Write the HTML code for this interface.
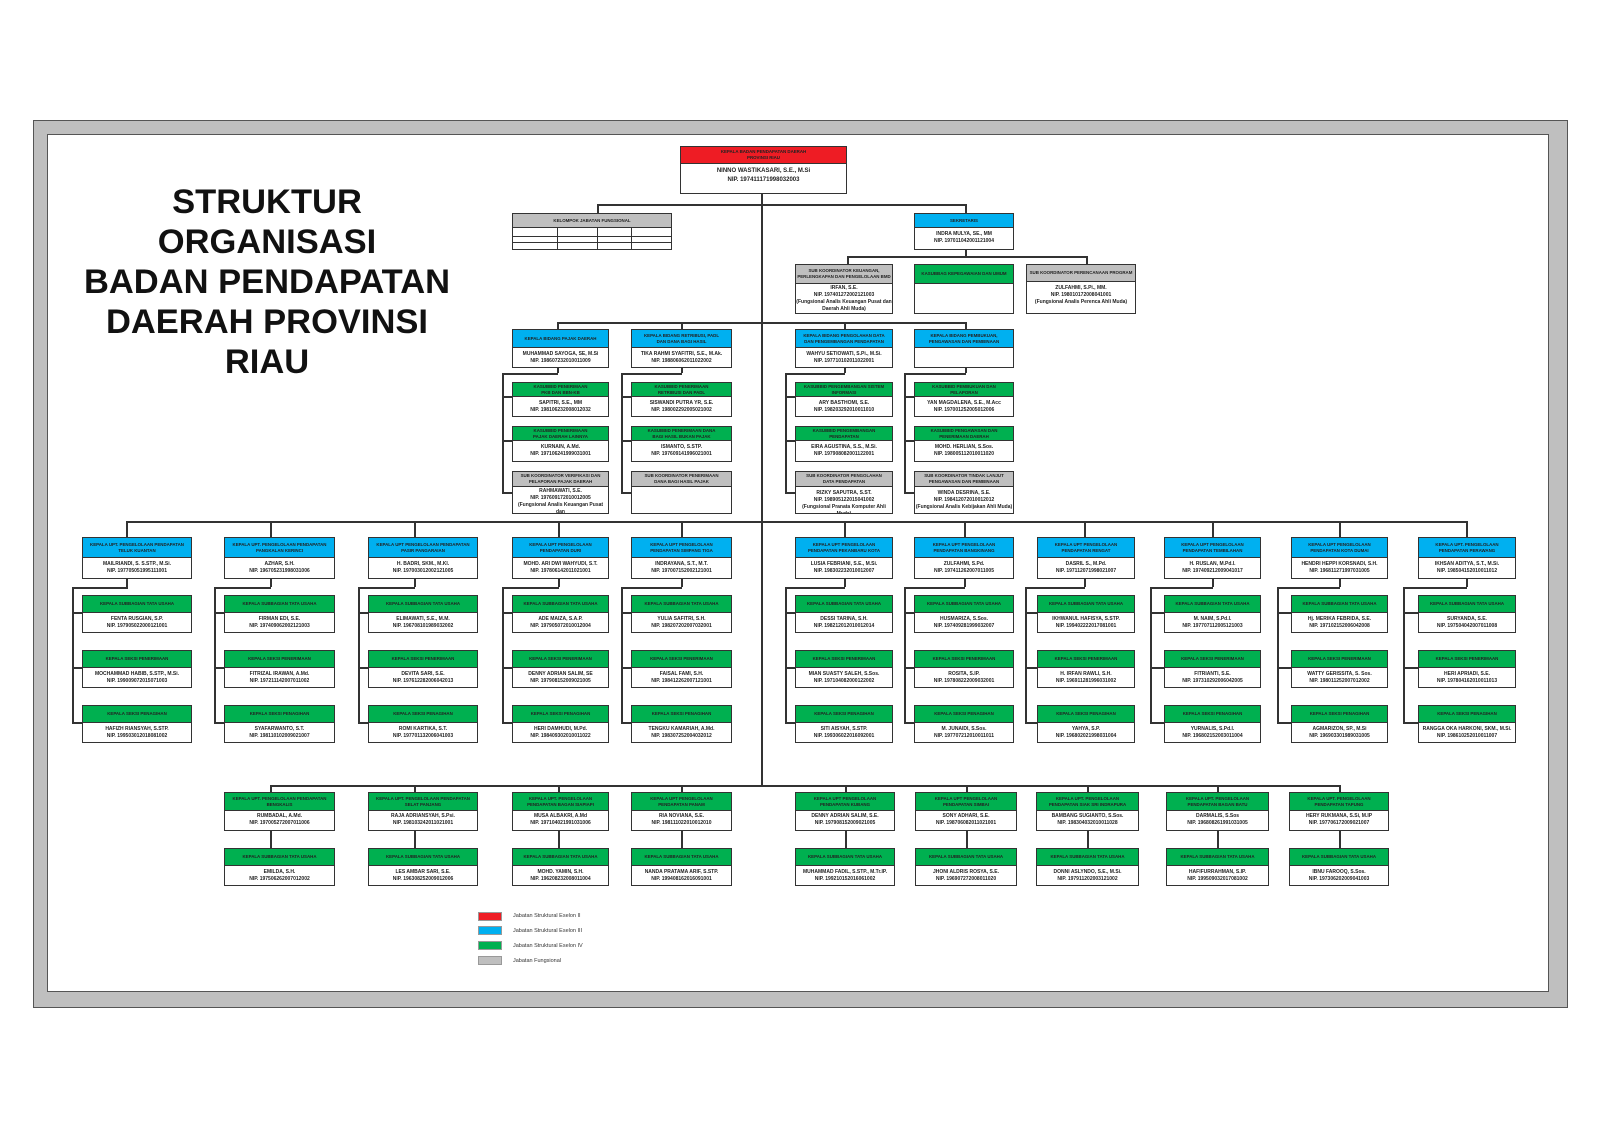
<!DOCTYPE html>
<html><head><meta charset="utf-8">
<style>
*{margin:0;padding:0;box-sizing:border-box}
body{width:1600px;height:1131px;background:#fff;position:relative;overflow:hidden;font-family:"Liberation Sans",sans-serif}
.frame{position:absolute;left:33px;top:120px;width:1535px;height:888px;background:#bfbfbf;border:1.5px solid #555}
.inner{position:absolute;left:47px;top:134px;width:1502px;height:858px;background:#fff;border:1.5px solid #555}
.title{position:absolute;left:57px;top:182px;width:420px;text-align:center;font-weight:bold;font-size:34.5px;line-height:40px;color:#111}
.b{position:absolute;background:#fff;border:1.5px solid #333;text-align:center;font-size:5px;line-height:7px;color:#222;font-weight:bold;overflow:hidden}
.h{display:flex;align-items:center;justify-content:center;border-bottom:1.5px solid #333;color:#222;font-size:4.4px;line-height:6px;padding:0 1px}
.t{padding-top:3px}
.r{background:#ee1c24}.bl{background:#00b0f0}.g{background:#00b050}.gr{background:#bfbfbf}
.l{position:absolute;background:#333}
.lg{position:absolute;width:24px;height:9px;border:1px solid #999}
.lt{position:absolute;left:513px;font-size:5.5px;color:#333}
</style></head><body>
<div class="frame"></div>
<div class="inner"></div>
<div class="title">STRUKTUR<br>ORGANISASI<br>BADAN PENDAPATAN<br>DAERAH PROVINSI<br>RIAU</div>

<!-- lines top -->
<div class="l" style="left:761px;top:194px;width:2px;height:592px"></div>
<div class="l" style="left:597px;top:204px;width:369px;height:1.5px"></div>
<div class="l" style="left:597px;top:204px;width:1.5px;height:9px"></div>
<div class="l" style="left:965px;top:204px;width:1.5px;height:9px"></div>
<div class="l" style="left:965px;top:250px;width:1.5px;height:7px"></div>
<div class="l" style="left:847px;top:256px;width:240px;height:1.5px"></div>
<div class="l" style="left:847px;top:256px;width:1.5px;height:8px"></div>
<div class="l" style="left:1086px;top:256px;width:1.5px;height:8px"></div>
<div class="l" style="left:557px;top:322px;width:409px;height:1.5px"></div>
<div class="l" style="left:557px;top:322px;width:1.5px;height:7px"></div>
<div class="l" style="left:681px;top:322px;width:1.5px;height:7px"></div>
<div class="l" style="left:844px;top:322px;width:1.5px;height:7px"></div>
<div class="l" style="left:965px;top:322px;width:1.5px;height:7px"></div>

<!-- bidang brackets -->
<div class="l" style="left:557px;top:368px;width:1.5px;height:5px"></div>
<div class="l" style="left:502px;top:373px;width:56px;height:1.5px"></div>
<div class="l" style="left:502px;top:373px;width:1.5px;height:120px"></div>
<div class="l" style="left:502px;top:396px;width:10px;height:1.5px"></div>
<div class="l" style="left:502px;top:440px;width:10px;height:1.5px"></div>
<div class="l" style="left:502px;top:492px;width:10px;height:1.5px"></div>
<div class="l" style="left:681px;top:368px;width:1.5px;height:5px"></div>
<div class="l" style="left:621px;top:373px;width:61px;height:1.5px"></div>
<div class="l" style="left:621px;top:373px;width:1.5px;height:120px"></div>
<div class="l" style="left:621px;top:396px;width:10px;height:1.5px"></div>
<div class="l" style="left:621px;top:440px;width:10px;height:1.5px"></div>
<div class="l" style="left:621px;top:492px;width:10px;height:1.5px"></div>
<div class="l" style="left:844px;top:368px;width:1.5px;height:5px"></div>
<div class="l" style="left:785px;top:373px;width:60px;height:1.5px"></div>
<div class="l" style="left:785px;top:373px;width:1.5px;height:120px"></div>
<div class="l" style="left:785px;top:396px;width:10px;height:1.5px"></div>
<div class="l" style="left:785px;top:440px;width:10px;height:1.5px"></div>
<div class="l" style="left:785px;top:492px;width:10px;height:1.5px"></div>
<div class="l" style="left:965px;top:368px;width:1.5px;height:5px"></div>
<div class="l" style="left:904px;top:373px;width:62px;height:1.5px"></div>
<div class="l" style="left:904px;top:373px;width:1.5px;height:120px"></div>
<div class="l" style="left:904px;top:396px;width:10px;height:1.5px"></div>
<div class="l" style="left:904px;top:440px;width:10px;height:1.5px"></div>
<div class="l" style="left:904px;top:492px;width:10px;height:1.5px"></div>

<!-- top boxes -->
<div class="b" style="left:680px;top:146px;width:167px;height:48px"><div class="h r" style="height:17px">KEPALA BADAN PENDAPATAN DAERAH<br>PROVINSI RIAU</div><div class="t" style="font-size:6px;line-height:9px">NINNO WASTIKASARI, S.E., M.Si<br>NIP. 197411171998032003</div></div>
<div class="b" style="left:512px;top:213px;width:160px;height:37px"><div class="h gr" style="height:14px">KELOMPOK JABATAN FUNGSIONAL</div>
<div class="l" style="left:0;top:22px;width:160px;height:1px"></div><div class="l" style="left:0;top:28px;width:160px;height:1px"></div>
<div class="l" style="left:44px;top:13px;width:1px;height:24px"></div><div class="l" style="left:84px;top:13px;width:1px;height:24px"></div><div class="l" style="left:118px;top:13px;width:1px;height:24px"></div></div>
<div class="b" style="left:914px;top:213px;width:100px;height:37px"><div class="h bl" style="height:14px">SEKRETARIS</div><div class="t">INDRA MULYA, SE., MM<br>NIP. 197011042001121004</div></div>

<div class="b" style="left:795px;top:264px;width:98px;height:50px"><div class="h gr" style="height:19px">SUB KOORDINATOR KEUANGAN,<br>PERLENGKAPAN DAN PENGELOLAAN BMD</div><div class="t" style="padding-top:1px">IRFAN, S.E.<br>NIP. 197401272002121003<br>(Fungsional Analis Keuangan Pusat dan<br>Daerah Ahli Muda)</div></div>
<div class="b" style="left:914px;top:264px;width:100px;height:50px"><div class="h g" style="height:19px">KASUBBAG KEPEGAWAIAN DAN UMUM</div></div>
<div class="b" style="left:1026px;top:264px;width:110px;height:50px"><div class="h gr" style="height:17px">SUB KOORDINATOR PERENCANAAN PROGRAM</div><div class="t">ZULFAHMI, S.Pi., MM.<br>NIP. 198010172008041001<br>(Fungsional Analis Perenca Ahli Muda)</div></div>

<!-- bidang -->
<div class="b" style="left:512px;top:329px;width:97px;height:39px"><div class="h bl" style="height:18px">KEPALA BIDANG PAJAK DAERAH</div><div class="t">MUHAMMAD SAYOGA, SE, M.Si<br>NIP. 198607232010011009</div></div>
<div class="b" style="left:631px;top:329px;width:101px;height:39px"><div class="h bl" style="height:18px">KEPALA BIDANG RETRIBUSI, PADL<br>DAN DANA BAGI HASIL</div><div class="t">TIKA RAHMI SYAFITRI, S.E., M.Ak.<br>NIP. 198806062011022002</div></div>
<div class="b" style="left:795px;top:329px;width:98px;height:39px"><div class="h bl" style="height:18px">KEPALA BIDANG PENGOLAHAN DATA<br>DAN PENGEMBANGAN PENDAPATAN</div><div class="t">WAHYU SETIOWATI, S.Pi., M.Si.<br>NIP. 197710102011022001</div></div>
<div class="b" style="left:914px;top:329px;width:100px;height:39px"><div class="h bl" style="height:18px">KEPALA BIDANG PEMBUKUAN,<br>PENGAWASAN DAN PEMBINAAN</div></div>

<div class="b" style="left:512px;top:382px;width:97px;height:35px"><div class="h g" style="height:14px">KASUBBID PENERIMAAN<br>PKB DAN BBN-KB</div><div class="t">SAPITRI, S.E., MM<br>NIP. 198106232008012032</div></div>
<div class="b" style="left:631px;top:382px;width:101px;height:35px"><div class="h g" style="height:14px">KASUBBID PENERIMAAN<br>RETRIBUSI DAN PADL</div><div class="t">SISWANDI PUTRA YR, S.E.<br>NIP. 198002292005021002</div></div>
<div class="b" style="left:795px;top:382px;width:98px;height:35px"><div class="h g" style="height:14px">KASUBBID PENGEMBANGAN SISTEM<br>INFORMASI</div><div class="t">ARY BASTHOMI, S.E.<br>NIP. 198203292010011010</div></div>
<div class="b" style="left:914px;top:382px;width:100px;height:35px"><div class="h g" style="height:14px">KASUBBID PEMBUKUAN DAN<br>PELAPORAN</div><div class="t">YAN MAGDALENA, S.E., M.Acc<br>NIP. 197001252005012006</div></div>

<div class="b" style="left:512px;top:426px;width:97px;height:36px"><div class="h g" style="height:14px">KASUBBID PENERIMAAN<br>PAJAK DAERAH LAINNYA</div><div class="t">KURNAIN, A.Md.<br>NIP. 197106241999031001</div></div>
<div class="b" style="left:631px;top:426px;width:101px;height:36px"><div class="h g" style="height:14px">KASUBBID PENERIMAAN DANA<br>BAGI HASIL BUKAN PAJAK</div><div class="t">ISMANTO, S.STP.<br>NIP. 197609141996021001</div></div>
<div class="b" style="left:795px;top:426px;width:98px;height:36px"><div class="h g" style="height:14px">KASUBBID PENGEMBANGAN<br>PENDAPATAN</div><div class="t">EIRA AGUSTINA, S.S., M.Si.<br>NIP. 197908082001122001</div></div>
<div class="b" style="left:914px;top:426px;width:100px;height:36px"><div class="h g" style="height:14px">KASUBBID PENGAWASAN DAN<br>PENERIMAAN DAERAH</div><div class="t">MOHD. HERLIAN, S.Sos.<br>NIP. 198005112010011020</div></div>

<div class="b" style="left:512px;top:471px;width:97px;height:43px"><div class="h gr" style="height:15px">SUB KOORDINATOR VERIFIKASI DAN<br>PELAPORAN PAJAK DAERAH</div><div class="t" style="padding-top:1px">RAHMAWATI, S.E.<br>NIP. 197609172010012005<br>(Fungsional Analis Keuangan Pusat dan<br>Daerah Ahli Muda)</div></div>
<div class="b" style="left:631px;top:471px;width:101px;height:43px"><div class="h gr" style="height:15px">SUB KOORDINATOR PENERIMAAN<br>DANA BAGI HASIL PAJAK</div></div>
<div class="b" style="left:795px;top:471px;width:98px;height:43px"><div class="h gr" style="height:15px">SUB KOORDINATOR PENGOLAHAN<br>DATA PENDAPATAN</div><div class="t">RIZKY SAPUTRA, S.ST.<br>NIP. 198905122015041002<br>(Fungsional Pranata Komputer Ahli Muda)</div></div>
<div class="b" style="left:914px;top:471px;width:100px;height:43px"><div class="h gr" style="height:15px">SUB KOORDINATOR TINDAK LANJUT<br>PENGAWASAN DAN PEMBINAAN</div><div class="t">WINDA DESRINA, S.E.<br>NIP. 198412072010012012<br>(Fungsional Analis Kebijakan Ahli Muda)</div></div>

<!-- UPT row 1 line -->
<div class="l" style="left:126px;top:521px;width:1342px;height:1.5px"></div>

<!-- col1 -->
<div class="l" style="left:126px;top:521px;width:1.5px;height:16px"></div>
<div class="b" style="left:82px;top:537px;width:110px;height:42px"><div class="h bl" style="height:20px">KEPALA UPT. PENGELOLAAN PENDAPATAN<br>TELUK KUANTAN</div><div class="t">MAILRIANDI, S. S.STP., M.Si.<br>NIP. 197705051995111001</div></div>
<div class="l" style="left:126px;top:579px;width:1.5px;height:8px"></div><div class="l" style="left:72px;top:587px;width:56px;height:1.5px"></div><div class="l" style="left:72px;top:587px;width:1.5px;height:136px"></div>
<div class="l" style="left:72px;top:612px;width:10px;height:1.5px"></div><div class="l" style="left:72px;top:667px;width:10px;height:1.5px"></div><div class="l" style="left:72px;top:722px;width:10px;height:1.5px"></div>
<div class="b" style="left:82px;top:595px;width:110px;height:38px"><div class="h g" style="height:17px">KEPALA SUBBAGIAN TATA USAHA</div><div class="t">FENTA RUSGIAN, S.P.<br>NIP. 197905022000121001</div></div>
<div class="b" style="left:82px;top:650px;width:110px;height:38px"><div class="h g" style="height:17px">KEPALA SEKSI PENERIMAAN</div><div class="t">MOCHAMMAD HABIB, S.STP., M.Si.<br>NIP. 199009072015071003</div></div>
<div class="b" style="left:82px;top:705px;width:110px;height:38px"><div class="h g" style="height:17px">KEPALA SEKSI PENAGIHAN</div><div class="t">HAFIZH RIANSYAH, S.STP.<br>NIP. 199503012018081002</div></div>

<!-- col2 -->
<div class="l" style="left:270px;top:521px;width:1.5px;height:16px"></div>
<div class="b" style="left:224px;top:537px;width:111px;height:42px"><div class="h bl" style="height:20px">KEPALA UPT. PENGELOLAAN PENDAPATAN<br>PANGKALAN KERINCI</div><div class="t">AZHAR, S.H.<br>NIP. 196705231998031006</div></div>
<div class="l" style="left:270px;top:579px;width:1.5px;height:8px"></div><div class="l" style="left:214px;top:587px;width:57px;height:1.5px"></div><div class="l" style="left:214px;top:587px;width:1.5px;height:136px"></div>
<div class="l" style="left:214px;top:612px;width:10px;height:1.5px"></div><div class="l" style="left:214px;top:667px;width:10px;height:1.5px"></div><div class="l" style="left:214px;top:722px;width:10px;height:1.5px"></div>
<div class="b" style="left:224px;top:595px;width:111px;height:38px"><div class="h g" style="height:17px">KEPALA SUBBAGIAN TATA USAHA</div><div class="t">FIRMAN EDI, S.E.<br>NIP. 197409062002121003</div></div>
<div class="b" style="left:224px;top:650px;width:111px;height:38px"><div class="h g" style="height:17px">KEPALA SEKSI PENERIMAAN</div><div class="t">FITRIZAL IRAWAN, A.Md.<br>NIP. 197211142007011002</div></div>
<div class="b" style="left:224px;top:705px;width:111px;height:38px"><div class="h g" style="height:17px">KEPALA SEKSI PENAGIHAN</div><div class="t">SYAFARWANTO, S.T.<br>NIP. 198110102009021007</div></div>

<!-- col3 -->
<div class="l" style="left:414px;top:521px;width:1.5px;height:16px"></div>
<div class="b" style="left:368px;top:537px;width:110px;height:42px"><div class="h bl" style="height:20px">KEPALA UPT PENGELOLAAN PENDAPATAN<br>PASIR PANGARAIAN</div><div class="t">H. BADRI, SKM., M.Kl.<br>NIP. 197003012002121005</div></div>
<div class="l" style="left:414px;top:579px;width:1.5px;height:8px"></div><div class="l" style="left:358px;top:587px;width:57px;height:1.5px"></div><div class="l" style="left:358px;top:587px;width:1.5px;height:136px"></div>
<div class="l" style="left:358px;top:612px;width:10px;height:1.5px"></div><div class="l" style="left:358px;top:667px;width:10px;height:1.5px"></div><div class="l" style="left:358px;top:722px;width:10px;height:1.5px"></div>
<div class="b" style="left:368px;top:595px;width:110px;height:38px"><div class="h g" style="height:17px">KEPALA SUBBAGIAN TATA USAHA</div><div class="t">ELIMAWATI, S.E., M.M.<br>NIP. 196708101989032002</div></div>
<div class="b" style="left:368px;top:650px;width:110px;height:38px"><div class="h g" style="height:17px">KEPALA SEKSI PENERIMAAN</div><div class="t">DEVITA SARI, S.E.<br>NIP. 197612282006042013</div></div>
<div class="b" style="left:368px;top:705px;width:110px;height:38px"><div class="h g" style="height:17px">KEPALA SEKSI PENAGIHAN</div><div class="t">ROMI KARTIKA, S.T.<br>NIP. 197701132006041003</div></div>

<!-- col4 -->
<div class="l" style="left:558px;top:521px;width:1.5px;height:16px"></div>
<div class="b" style="left:512px;top:537px;width:97px;height:42px"><div class="h bl" style="height:20px">KEPALA UPT PENGELOLAAN<br>PENDAPATAN DURI</div><div class="t">MOHD. ARI DWI WAHYUDI, S.T.<br>NIP. 197806142011021001</div></div>
<div class="l" style="left:558px;top:579px;width:1.5px;height:8px"></div><div class="l" style="left:502px;top:587px;width:57px;height:1.5px"></div><div class="l" style="left:502px;top:587px;width:1.5px;height:136px"></div>
<div class="l" style="left:502px;top:612px;width:10px;height:1.5px"></div><div class="l" style="left:502px;top:667px;width:10px;height:1.5px"></div><div class="l" style="left:502px;top:722px;width:10px;height:1.5px"></div>
<div class="b" style="left:512px;top:595px;width:97px;height:38px"><div class="h g" style="height:17px">KEPALA SUBBAGIAN TATA USAHA</div><div class="t">ADE MAIZA, S.A.P.<br>NIP. 197905072010012004</div></div>
<div class="b" style="left:512px;top:650px;width:97px;height:38px"><div class="h g" style="height:17px">KEPALA SEKSI PENERIMAAN</div><div class="t">DENNY ADRIAN SALIM, SE<br>NIP. 197908152009021005</div></div>
<div class="b" style="left:512px;top:705px;width:97px;height:38px"><div class="h g" style="height:17px">KEPALA SEKSI PENAGIHAN</div><div class="t">HERI DAMHUDI, M.Pd.<br>NIP. 198409302010011022</div></div>

<!-- col5 -->
<div class="l" style="left:681px;top:521px;width:1.5px;height:16px"></div>
<div class="b" style="left:631px;top:537px;width:101px;height:42px"><div class="h bl" style="height:20px">KEPALA UPT PENGELOLAAN<br>PENDAPATAN SIMPANG TIGA</div><div class="t">INDRAYANA, S.T., M.T.<br>NIP. 197007152002121001</div></div>
<div class="l" style="left:681px;top:579px;width:1.5px;height:8px"></div><div class="l" style="left:621px;top:587px;width:61px;height:1.5px"></div><div class="l" style="left:621px;top:587px;width:1.5px;height:136px"></div>
<div class="l" style="left:621px;top:612px;width:10px;height:1.5px"></div><div class="l" style="left:621px;top:667px;width:10px;height:1.5px"></div><div class="l" style="left:621px;top:722px;width:10px;height:1.5px"></div>
<div class="b" style="left:631px;top:595px;width:101px;height:38px"><div class="h g" style="height:17px">KEPALA SUBBAGIAN TATA USAHA</div><div class="t">YULIA SAFITRI, S.H.<br>NIP. 198207202007032001</div></div>
<div class="b" style="left:631px;top:650px;width:101px;height:38px"><div class="h g" style="height:17px">KEPALA SEKSI PENERIMAAN</div><div class="t">FAISAL FAMI, S.H.<br>NIP. 198412262007121001</div></div>
<div class="b" style="left:631px;top:705px;width:101px;height:38px"><div class="h g" style="height:17px">KEPALA SEKSI PENAGIHAN</div><div class="t">TENGKU KAMARIAH, A.Md.<br>NIP. 198307252004032012</div></div>

<!-- col6 -->
<div class="l" style="left:844px;top:521px;width:1.5px;height:16px"></div>
<div class="b" style="left:795px;top:537px;width:98px;height:42px"><div class="h bl" style="height:20px">KEPALA UPT PENGELOLAAN<br>PENDAPATAN PEKANBARU KOTA</div><div class="t">LUSIA FEBRIANI, S.E., M.Si.<br>NIP. 198302232010012007</div></div>
<div class="l" style="left:844px;top:579px;width:1.5px;height:8px"></div><div class="l" style="left:785px;top:587px;width:60px;height:1.5px"></div><div class="l" style="left:785px;top:587px;width:1.5px;height:136px"></div>
<div class="l" style="left:785px;top:612px;width:10px;height:1.5px"></div><div class="l" style="left:785px;top:667px;width:10px;height:1.5px"></div><div class="l" style="left:785px;top:722px;width:10px;height:1.5px"></div>
<div class="b" style="left:795px;top:595px;width:98px;height:38px"><div class="h g" style="height:17px">KEPALA SUBBAGIAN TATA USAHA</div><div class="t">DESSI TARINA, S.H.<br>NIP. 198212012010012014</div></div>
<div class="b" style="left:795px;top:650px;width:98px;height:38px"><div class="h g" style="height:17px">KEPALA SEKSI PENERIMAAN</div><div class="t">MIAN SUASTY SALEH, S.Sos.<br>NIP. 197104082000122002</div></div>
<div class="b" style="left:795px;top:705px;width:98px;height:38px"><div class="h g" style="height:17px">KEPALA SEKSI PENAGIHAN</div><div class="t">SITI AISYAH, S.STP.<br>NIP. 199306022016092001</div></div>

<!-- col7 -->
<div class="l" style="left:964px;top:521px;width:1.5px;height:16px"></div>
<div class="b" style="left:914px;top:537px;width:100px;height:42px"><div class="h bl" style="height:20px">KEPALA UPT PENGELOLAAN<br>PENDAPATAN BANGKINANG</div><div class="t">ZULFAHMI, S.Pd.<br>NIP. 197411262007011005</div></div>
<div class="l" style="left:964px;top:579px;width:1.5px;height:8px"></div><div class="l" style="left:904px;top:587px;width:61px;height:1.5px"></div><div class="l" style="left:904px;top:587px;width:1.5px;height:136px"></div>
<div class="l" style="left:904px;top:612px;width:10px;height:1.5px"></div><div class="l" style="left:904px;top:667px;width:10px;height:1.5px"></div><div class="l" style="left:904px;top:722px;width:10px;height:1.5px"></div>
<div class="b" style="left:914px;top:595px;width:100px;height:38px"><div class="h g" style="height:17px">KEPALA SUBBAGIAN TATA USAHA</div><div class="t">HUSMARIZA, S.Sos.<br>NIP. 197409281999032007</div></div>
<div class="b" style="left:914px;top:650px;width:100px;height:38px"><div class="h g" style="height:17px">KEPALA SEKSI PENERIMAAN</div><div class="t">ROSITA, S.IP.<br>NIP. 197808222009032001</div></div>
<div class="b" style="left:914px;top:705px;width:100px;height:38px"><div class="h g" style="height:17px">KEPALA SEKSI PENAGIHAN</div><div class="t">M. JUNAIDI, S.Sos.<br>NIP. 197707212010011011</div></div>

<!-- col8 -->
<div class="l" style="left:1084px;top:521px;width:1.5px;height:16px"></div>
<div class="b" style="left:1037px;top:537px;width:98px;height:42px"><div class="h bl" style="height:20px">KEPALA UPT PENGELOLAAN<br>PENDAPATAN RENGAT</div><div class="t">DASRIL S., M.Pd.<br>NIP. 197112071998021007</div></div>
<div class="l" style="left:1084px;top:579px;width:1.5px;height:8px"></div><div class="l" style="left:1025px;top:587px;width:60px;height:1.5px"></div><div class="l" style="left:1025px;top:587px;width:1.5px;height:136px"></div>
<div class="l" style="left:1025px;top:612px;width:12px;height:1.5px"></div><div class="l" style="left:1025px;top:667px;width:12px;height:1.5px"></div><div class="l" style="left:1025px;top:722px;width:12px;height:1.5px"></div>
<div class="b" style="left:1037px;top:595px;width:98px;height:38px"><div class="h g" style="height:17px">KEPALA SUBBAGIAN TATA USAHA</div><div class="t">IKHWANUL HAFISYA, S.STP.<br>NIP. 199402222017081001</div></div>
<div class="b" style="left:1037px;top:650px;width:98px;height:38px"><div class="h g" style="height:17px">KEPALA SEKSI PENERIMAAN</div><div class="t">H. IRFAN RAWLI, S.H.<br>NIP. 196911281996031002</div></div>
<div class="b" style="left:1037px;top:705px;width:98px;height:38px"><div class="h g" style="height:17px">KEPALA SEKSI PENAGIHAN</div><div class="t">YAHYA, S.P.<br>NIP. 196802021998031004</div></div>

<!-- col9 -->
<div class="l" style="left:1212px;top:521px;width:1.5px;height:16px"></div>
<div class="b" style="left:1164px;top:537px;width:97px;height:42px"><div class="h bl" style="height:20px">KEPALA UPT PENGELOLAAN<br>PENDAPATAN TEMBILAHAN</div><div class="t">H. RUSLAN, M.Pd.I.<br>NIP. 197409212009041017</div></div>
<div class="l" style="left:1212px;top:579px;width:1.5px;height:8px"></div><div class="l" style="left:1150px;top:587px;width:63px;height:1.5px"></div><div class="l" style="left:1150px;top:587px;width:1.5px;height:136px"></div>
<div class="l" style="left:1150px;top:612px;width:14px;height:1.5px"></div><div class="l" style="left:1150px;top:667px;width:14px;height:1.5px"></div><div class="l" style="left:1150px;top:722px;width:14px;height:1.5px"></div>
<div class="b" style="left:1164px;top:595px;width:97px;height:38px"><div class="h g" style="height:17px">KEPALA SUBBAGIAN TATA USAHA</div><div class="t">M. NAIM, S.Pd.I.<br>NIP. 197707112005121003</div></div>
<div class="b" style="left:1164px;top:650px;width:97px;height:38px"><div class="h g" style="height:17px">KEPALA SEKSI PENERIMAAN</div><div class="t">FITRIANTI, S.E.<br>NIP. 197310292006042005</div></div>
<div class="b" style="left:1164px;top:705px;width:97px;height:38px"><div class="h g" style="height:17px">KEPALA SEKSI PENAGIHAN</div><div class="t">YURNALIS, S.Pd.I.<br>NIP. 196802152003011004</div></div>

<!-- col10 -->
<div class="l" style="left:1339px;top:521px;width:1.5px;height:16px"></div>
<div class="b" style="left:1291px;top:537px;width:97px;height:42px"><div class="h bl" style="height:20px">KEPALA UPT PENGELOLAAN<br>PENDAPATAN KOTA DUMAI</div><div class="t">HENDRI HEPPI KORSNADI, S.H.<br>NIP. 196811271997031005</div></div>
<div class="l" style="left:1339px;top:579px;width:1.5px;height:8px"></div><div class="l" style="left:1277px;top:587px;width:63px;height:1.5px"></div><div class="l" style="left:1277px;top:587px;width:1.5px;height:136px"></div>
<div class="l" style="left:1277px;top:612px;width:14px;height:1.5px"></div><div class="l" style="left:1277px;top:667px;width:14px;height:1.5px"></div><div class="l" style="left:1277px;top:722px;width:14px;height:1.5px"></div>
<div class="b" style="left:1291px;top:595px;width:97px;height:38px"><div class="h g" style="height:17px">KEPALA SUBBAGIAN TATA USAHA</div><div class="t">Hj. MERIKA FEBRIDA, S.E.<br>NIP. 197102152006042008</div></div>
<div class="b" style="left:1291px;top:650px;width:97px;height:38px"><div class="h g" style="height:17px">KEPALA SEKSI PENERIMAAN</div><div class="t">WATTY GERISSITA, S. Sos.<br>NIP. 198011252007012002</div></div>
<div class="b" style="left:1291px;top:705px;width:97px;height:38px"><div class="h g" style="height:17px">KEPALA SEKSI PENAGIHAN</div><div class="t">AGMARIZON, SP., M.Si<br>NIP. 196903301989031005</div></div>

<!-- col11 -->
<div class="l" style="left:1466px;top:521px;width:1.5px;height:16px"></div>
<div class="b" style="left:1418px;top:537px;width:98px;height:42px"><div class="h bl" style="height:20px">KEPALA UPT. PENGELOLAAN<br>PENDAPATAN PERAWANG</div><div class="t">IKHSAN ADITYA, S.T., M.Si.<br>NIP. 198504152010011012</div></div>
<div class="l" style="left:1466px;top:579px;width:1.5px;height:8px"></div><div class="l" style="left:1403px;top:587px;width:64px;height:1.5px"></div><div class="l" style="left:1403px;top:587px;width:1.5px;height:136px"></div>
<div class="l" style="left:1403px;top:612px;width:15px;height:1.5px"></div><div class="l" style="left:1403px;top:667px;width:15px;height:1.5px"></div><div class="l" style="left:1403px;top:722px;width:15px;height:1.5px"></div>
<div class="b" style="left:1418px;top:595px;width:98px;height:38px"><div class="h g" style="height:17px">KEPALA SUBBAGIAN TATA USAHA</div><div class="t">SURYANDA, S.E.<br>NIP. 197504042007011008</div></div>
<div class="b" style="left:1418px;top:650px;width:98px;height:38px"><div class="h g" style="height:17px">KEPALA SEKSI PENERIMAAN</div><div class="t">HERI APRIADI, S.E.<br>NIP. 197804162010011013</div></div>
<div class="b" style="left:1418px;top:705px;width:98px;height:38px"><div class="h g" style="height:17px">KEPALA SEKSI PENAGIHAN</div><div class="t">RANGGA OKA HARKONI, SKM., M.Si.<br>NIP. 198610252010011007</div></div>

<!-- UPT row 2 -->
<div class="l" style="left:270px;top:785px;width:1070px;height:1.5px"></div>

<div class="l" style="left:270px;top:785px;width:1.5px;height:63px"></div>
<div class="b" style="left:224px;top:792px;width:111px;height:39px"><div class="h g" style="height:18px">KEPALA UPT. PENGELOLAAN PENDAPATAN<br>BENGKALIS</div><div class="t" style="padding-top:2px">RUMBADAL, A.Md.<br>NIP. 197005272007011006</div></div>
<div class="b" style="left:224px;top:848px;width:111px;height:38px"><div class="h g" style="height:17px">KEPALA SUBBAGIAN TATA USAHA</div><div class="t">EMILDA, S.H.<br>NIP. 197506262007012002</div></div>

<div class="l" style="left:414px;top:785px;width:1.5px;height:63px"></div>
<div class="b" style="left:368px;top:792px;width:110px;height:39px"><div class="h g" style="height:18px">KEPALA UPT. PENGELOLAAN PENDAPATAN<br>SELAT PANJANG</div><div class="t" style="padding-top:2px">RAJA ADRIANSYAH, S.Psi.<br>NIP. 198103242011021001</div></div>
<div class="b" style="left:368px;top:848px;width:110px;height:38px"><div class="h g" style="height:17px">KEPALA SUBBAGIAN TATA USAHA</div><div class="t">LES AMBAR SARI, S.E.<br>NIP. 196308252009012006</div></div>

<div class="l" style="left:558px;top:785px;width:1.5px;height:63px"></div>
<div class="b" style="left:512px;top:792px;width:97px;height:39px"><div class="h g" style="height:18px">KEPALA UPT. PENGELOLAAN<br>PENDAPATAN BAGAN SIAPIAPI</div><div class="t" style="padding-top:2px">MUSA ALBAKRI, A.Md<br>NIP. 197104021991031006</div></div>
<div class="b" style="left:512px;top:848px;width:97px;height:38px"><div class="h g" style="height:17px">KEPALA SUBBAGIAN TATA USAHA</div><div class="t">MOHD. YAMIN, S.H.<br>NIP. 196208232008011004</div></div>

<div class="l" style="left:681px;top:785px;width:1.5px;height:63px"></div>
<div class="b" style="left:631px;top:792px;width:101px;height:39px"><div class="h g" style="height:18px">KEPALA UPT PENGELOLAAN<br>PENDAPATAN PANAM</div><div class="t" style="padding-top:2px">RIA NOVIANA, S.E.<br>NIP. 198111022010012010</div></div>
<div class="b" style="left:631px;top:848px;width:101px;height:38px"><div class="h g" style="height:17px">KEPALA SUBBAGIAN TATA USAHA</div><div class="t">NANDA PRATAMA ARIF, S.STP.<br>NIP. 199408162016091001</div></div>

<div class="l" style="left:845px;top:785px;width:1.5px;height:63px"></div>
<div class="b" style="left:795px;top:792px;width:100px;height:39px"><div class="h g" style="height:18px">KEPALA UPT PENGELOLAAN<br>PENDAPATAN KUBANG</div><div class="t" style="padding-top:2px">DENNY ADRIAN SALIM, S.E.<br>NIP. 197908152009021005</div></div>
<div class="b" style="left:795px;top:848px;width:100px;height:38px"><div class="h g" style="height:17px">KEPALA SUBBAGIAN TATA USAHA</div><div class="t">MUHAMMAD FADIL, S.STP., M.Tr.IP.<br>NIP. 199210152016061002</div></div>

<div class="l" style="left:966px;top:785px;width:1.5px;height:63px"></div>
<div class="b" style="left:915px;top:792px;width:102px;height:39px"><div class="h g" style="height:18px">KEPALA UPT PENGELOLAAN<br>PENDAPATAN SIMBAI</div><div class="t" style="padding-top:2px">SONY ADHARI, S.E.<br>NIP. 198706082011021001</div></div>
<div class="b" style="left:915px;top:848px;width:102px;height:38px"><div class="h g" style="height:17px">KEPALA SUBBAGIAN TATA USAHA</div><div class="t">JHONI ALDRIS ROSYA, S.E.<br>NIP. 196907272008011020</div></div>

<div class="l" style="left:1087px;top:785px;width:1.5px;height:63px"></div>
<div class="b" style="left:1036px;top:792px;width:103px;height:39px"><div class="h g" style="height:18px">KEPALA UPT. PENGELOLAAN<br>PENDAPATAN SIAK SRI INDRAPURA</div><div class="t" style="padding-top:2px">BAMBANG SUGIANTO, S.Sos.<br>NIP. 198304032010011028</div></div>
<div class="b" style="left:1036px;top:848px;width:103px;height:38px"><div class="h g" style="height:17px">KEPALA SUBBAGIAN TATA USAHA</div><div class="t">DONNI ASLYNDO, S.E., M.Si.<br>NIP. 197911202003121002</div></div>

<div class="l" style="left:1217px;top:785px;width:1.5px;height:63px"></div>
<div class="b" style="left:1166px;top:792px;width:103px;height:39px"><div class="h g" style="height:18px">KEPALA UPT. PENGELOLAAN<br>PENDAPATAN BAGAN BATU</div><div class="t" style="padding-top:2px">DARMALIS, S.Sos<br>NIP. 196808261991031005</div></div>
<div class="b" style="left:1166px;top:848px;width:103px;height:38px"><div class="h g" style="height:17px">KEPALA SUBBAGIAN TATA USAHA</div><div class="t">HAFIFURRAHMAN, S.IP.<br>NIP. 199509032017081002</div></div>

<div class="l" style="left:1339px;top:785px;width:1.5px;height:63px"></div>
<div class="b" style="left:1289px;top:792px;width:100px;height:39px"><div class="h g" style="height:18px">KEPALA UPT. PENGELOLAAN<br>PENDAPATAN TAPUNG</div><div class="t" style="padding-top:2px">HERY RUKMANA, S.Si, M.IP<br>NIP. 197706172009021007</div></div>
<div class="b" style="left:1289px;top:848px;width:100px;height:38px"><div class="h g" style="height:17px">KEPALA SUBBAGIAN TATA USAHA</div><div class="t">IBNU FAROOQ, S.Sos.<br>NIP. 197306202009041003</div></div>

<!-- legend -->
<div class="lg r" style="left:478px;top:912px"></div><div class="lt" style="top:913px">Jabatan Struktural Eselon II</div>
<div class="lg bl" style="left:478px;top:926px"></div><div class="lt" style="top:928px">Jabatan Struktural Eselon III</div>
<div class="lg g" style="left:478px;top:941px"></div><div class="lt" style="top:943px">Jabatan Struktural Eselon IV</div>
<div class="lg gr" style="left:478px;top:956px"></div><div class="lt" style="top:958px">Jabatan Fungsional</div>
</body></html>
